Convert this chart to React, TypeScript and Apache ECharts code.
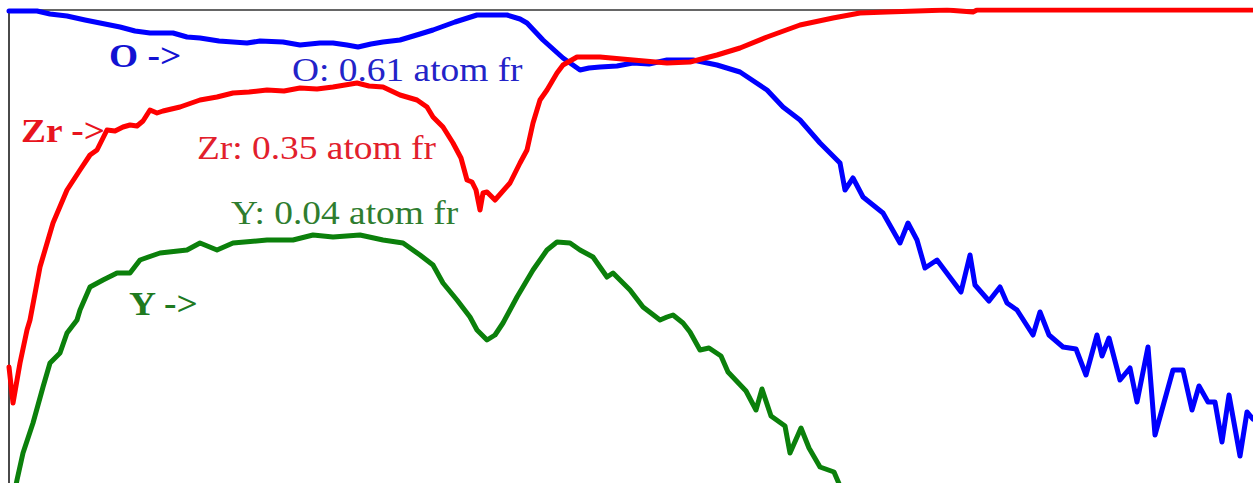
import React, { useEffect, useRef } from "react";
import * as echarts from "echarts";

// Depth profile (depth, intensity in arbitrary units)
const O_PROFILE: [number, number][] = [
  [0, 472], [11, 472], [28, 472], [41, 469], [58, 467], [76, 463], [91, 460],
  [111, 456], [126, 452], [141, 450], [164, 450], [178, 446], [191, 445],
  [210, 442], [224, 441], [238, 440], [251, 442], [274, 441], [291, 438],
  [311, 440], [324, 440], [338, 438], [349, 436], [362, 439], [374, 441],
  [391, 443], [411, 449], [424, 453], [446, 461], [468, 468], [498, 468],
  [511, 464], [518, 460], [534, 443], [554, 425], [571, 413], [580, 415],
  [591, 416], [608, 417], [624, 420], [640, 419], [658, 423], [684, 423],
  [708, 418], [731, 411], [758, 393], [774, 376], [791, 363], [811, 340],
  [831, 320], [836, 293], [844, 305], [854, 286], [874, 270], [891, 240],
  [899, 260], [908, 243], [916, 215], [928, 223], [952, 191], [961, 228],
  [966, 198], [980, 182], [991, 196], [998, 180], [1008, 173], [1024, 148],
  [1031, 171], [1040, 148], [1054, 136], [1067, 134], [1077, 108], [1088, 148],
  [1093, 127], [1100, 145], [1111, 103], [1121, 115], [1128, 81], [1139, 136],
  [1146, 48], [1164, 113], [1174, 113], [1183, 73], [1190, 97], [1199, 81],
  [1206, 81], [1213, 41], [1220, 88], [1231, 27], [1238, 71], [1244, 64],
];

const ZR_PROFILE: [number, number][] = [
  [0, 116], [4, 80], [11, 120], [18, 153], [21, 163], [31, 216], [44, 260],
  [58, 293], [71, 313], [81, 328], [88, 333], [98, 353], [106, 352],
  [114, 356], [121, 358], [128, 357], [134, 362], [141, 373], [148, 370],
  [154, 372], [171, 376], [191, 383], [208, 386], [224, 390], [240, 391],
  [258, 393], [275, 392], [291, 395], [308, 394], [324, 396], [348, 400],
  [360, 397], [374, 396], [391, 388], [408, 383], [418, 376], [424, 366],
  [434, 356], [444, 340], [452, 325], [458, 303], [463, 301], [467, 293],
  [471, 273], [474, 290], [478, 291], [486, 283], [501, 300], [511, 320],
  [518, 333], [524, 360], [531, 383], [538, 393], [548, 410], [554, 418],
  [568, 426], [591, 426], [624, 423], [658, 420], [681, 421], [708, 428],
  [731, 435], [758, 446], [791, 458], [824, 465], [851, 470], [878, 471],
  [938, 473], [964, 471], [968, 473], [1100, 473], [1244, 473],
];

const Y_PROFILE: [number, number][] = [
  [4, -17], [8, 3], [14, 30], [24, 60], [34, 96], [41, 120], [51, 130],
  [58, 150], [68, 163], [71, 173], [81, 196], [94, 203], [108, 210],
  [121, 210], [131, 223], [151, 230], [178, 233], [191, 240], [208, 233],
  [224, 240], [258, 243], [284, 243], [304, 248], [324, 246], [351, 248],
  [374, 243], [394, 240], [411, 228], [424, 218], [434, 200], [448, 183],
  [461, 166], [468, 153], [478, 143], [486, 148], [494, 160], [508, 186],
  [524, 213], [538, 233], [548, 241], [561, 240], [571, 233], [584, 226],
  [598, 206], [604, 210], [621, 193], [634, 176], [651, 163], [658, 166],
  [664, 168], [674, 160], [681, 151], [691, 133], [700, 135], [712, 127],
  [719, 111], [737, 92], [747, 73], [753, 94], [762, 67], [776, 57],
  [781, 30], [792, 55], [800, 35], [811, 16], [825, 11], [834, -10],
  [837, -17],
];

const ARROW_LABELS = ["O ->", "Zr ->", "Y ->"];
const FRACTION_LABELS = ["O: 0.61 atom fr", "Zr: 0.35 atom fr", "Y: 0.04 atom fr"];

const BLUE = "#0000ff";
const RED = "#ff0000";
const GREEN = "#0b800b";

const FONT = '"Liberation Serif", "Times New Roman", serif';

function label(text: string, x: number, y: number, color: string, bold: boolean) {
  return {
    type: "text",
    x,
    y,
    scaleX: 1.1,
    z: 100,
    style: {
      text,
      fill: color,
      fontFamily: FONT,
      fontSize: 34,
      fontWeight: bold ? "bold" : "normal",
      verticalAlign: "middle",
      align: "left",
    },
  };
}

export default function App() {
  const ref = useRef<HTMLDivElement>(null);

  useEffect(() => {
    if (!ref.current) return;
    const chart = echarts.init(ref.current, undefined, { renderer: "svg" });
    const lineSeries = (name: string, data: [number, number][], color: string) => ({
      name,
      type: "line",
      data,
      symbol: "none",
      showSymbol: false,
      clip: true,
      lineStyle: { color, width: 5, join: "round", cap: "round" },
      itemStyle: { color },
    });
    chart.setOption({
      animation: false,
      backgroundColor: "#ffffff",
      grid: { left: 9, top: 10, right: 0, bottom: 0, containLabel: false },
      xAxis: {
        type: "value",
        position: "top",
        min: 0,
        max: 1244,
        axisLine: { show: true, onZero: false, lineStyle: { color: "#333333", width: 1.5 } },
        axisTick: { show: false },
        axisLabel: { show: false },
        splitLine: { show: false },
      },
      yAxis: {
        type: "value",
        min: 0,
        max: 473,
        axisLine: { show: true, onZero: false, lineStyle: { color: "#4a4a4a", width: 2 } },
        axisTick: { show: false },
        axisLabel: { show: false },
        splitLine: { show: false },
      },
      series: [
        lineSeries("O", O_PROFILE, BLUE),
        lineSeries("Zr", ZR_PROFILE, RED),
        lineSeries("Y", Y_PROFILE, GREEN),
      ],
      graphic: [
        label(ARROW_LABELS[0], 109, 56, "#1212d2", true),
        label(FRACTION_LABELS[0], 292, 70, "#2323c8", false),
        label(ARROW_LABELS[1], 21, 131, "#e8141e", true),
        label(FRACTION_LABELS[1], 197, 148, "#e2202c", false),
        label(FRACTION_LABELS[2], 231, 213, "#2f7d2f", false),
        label(ARROW_LABELS[2], 129, 304, "#1f7a1f", true),
      ],
    });
    return () => chart.dispose();
  }, []);

  return (
    <div
      ref={ref}
      style={{
        position: "absolute",
        left: 0,
        top: 0,
        width: 1253,
        height: 483,
        background: "#ffffff",
      }}
    />
  );
}
